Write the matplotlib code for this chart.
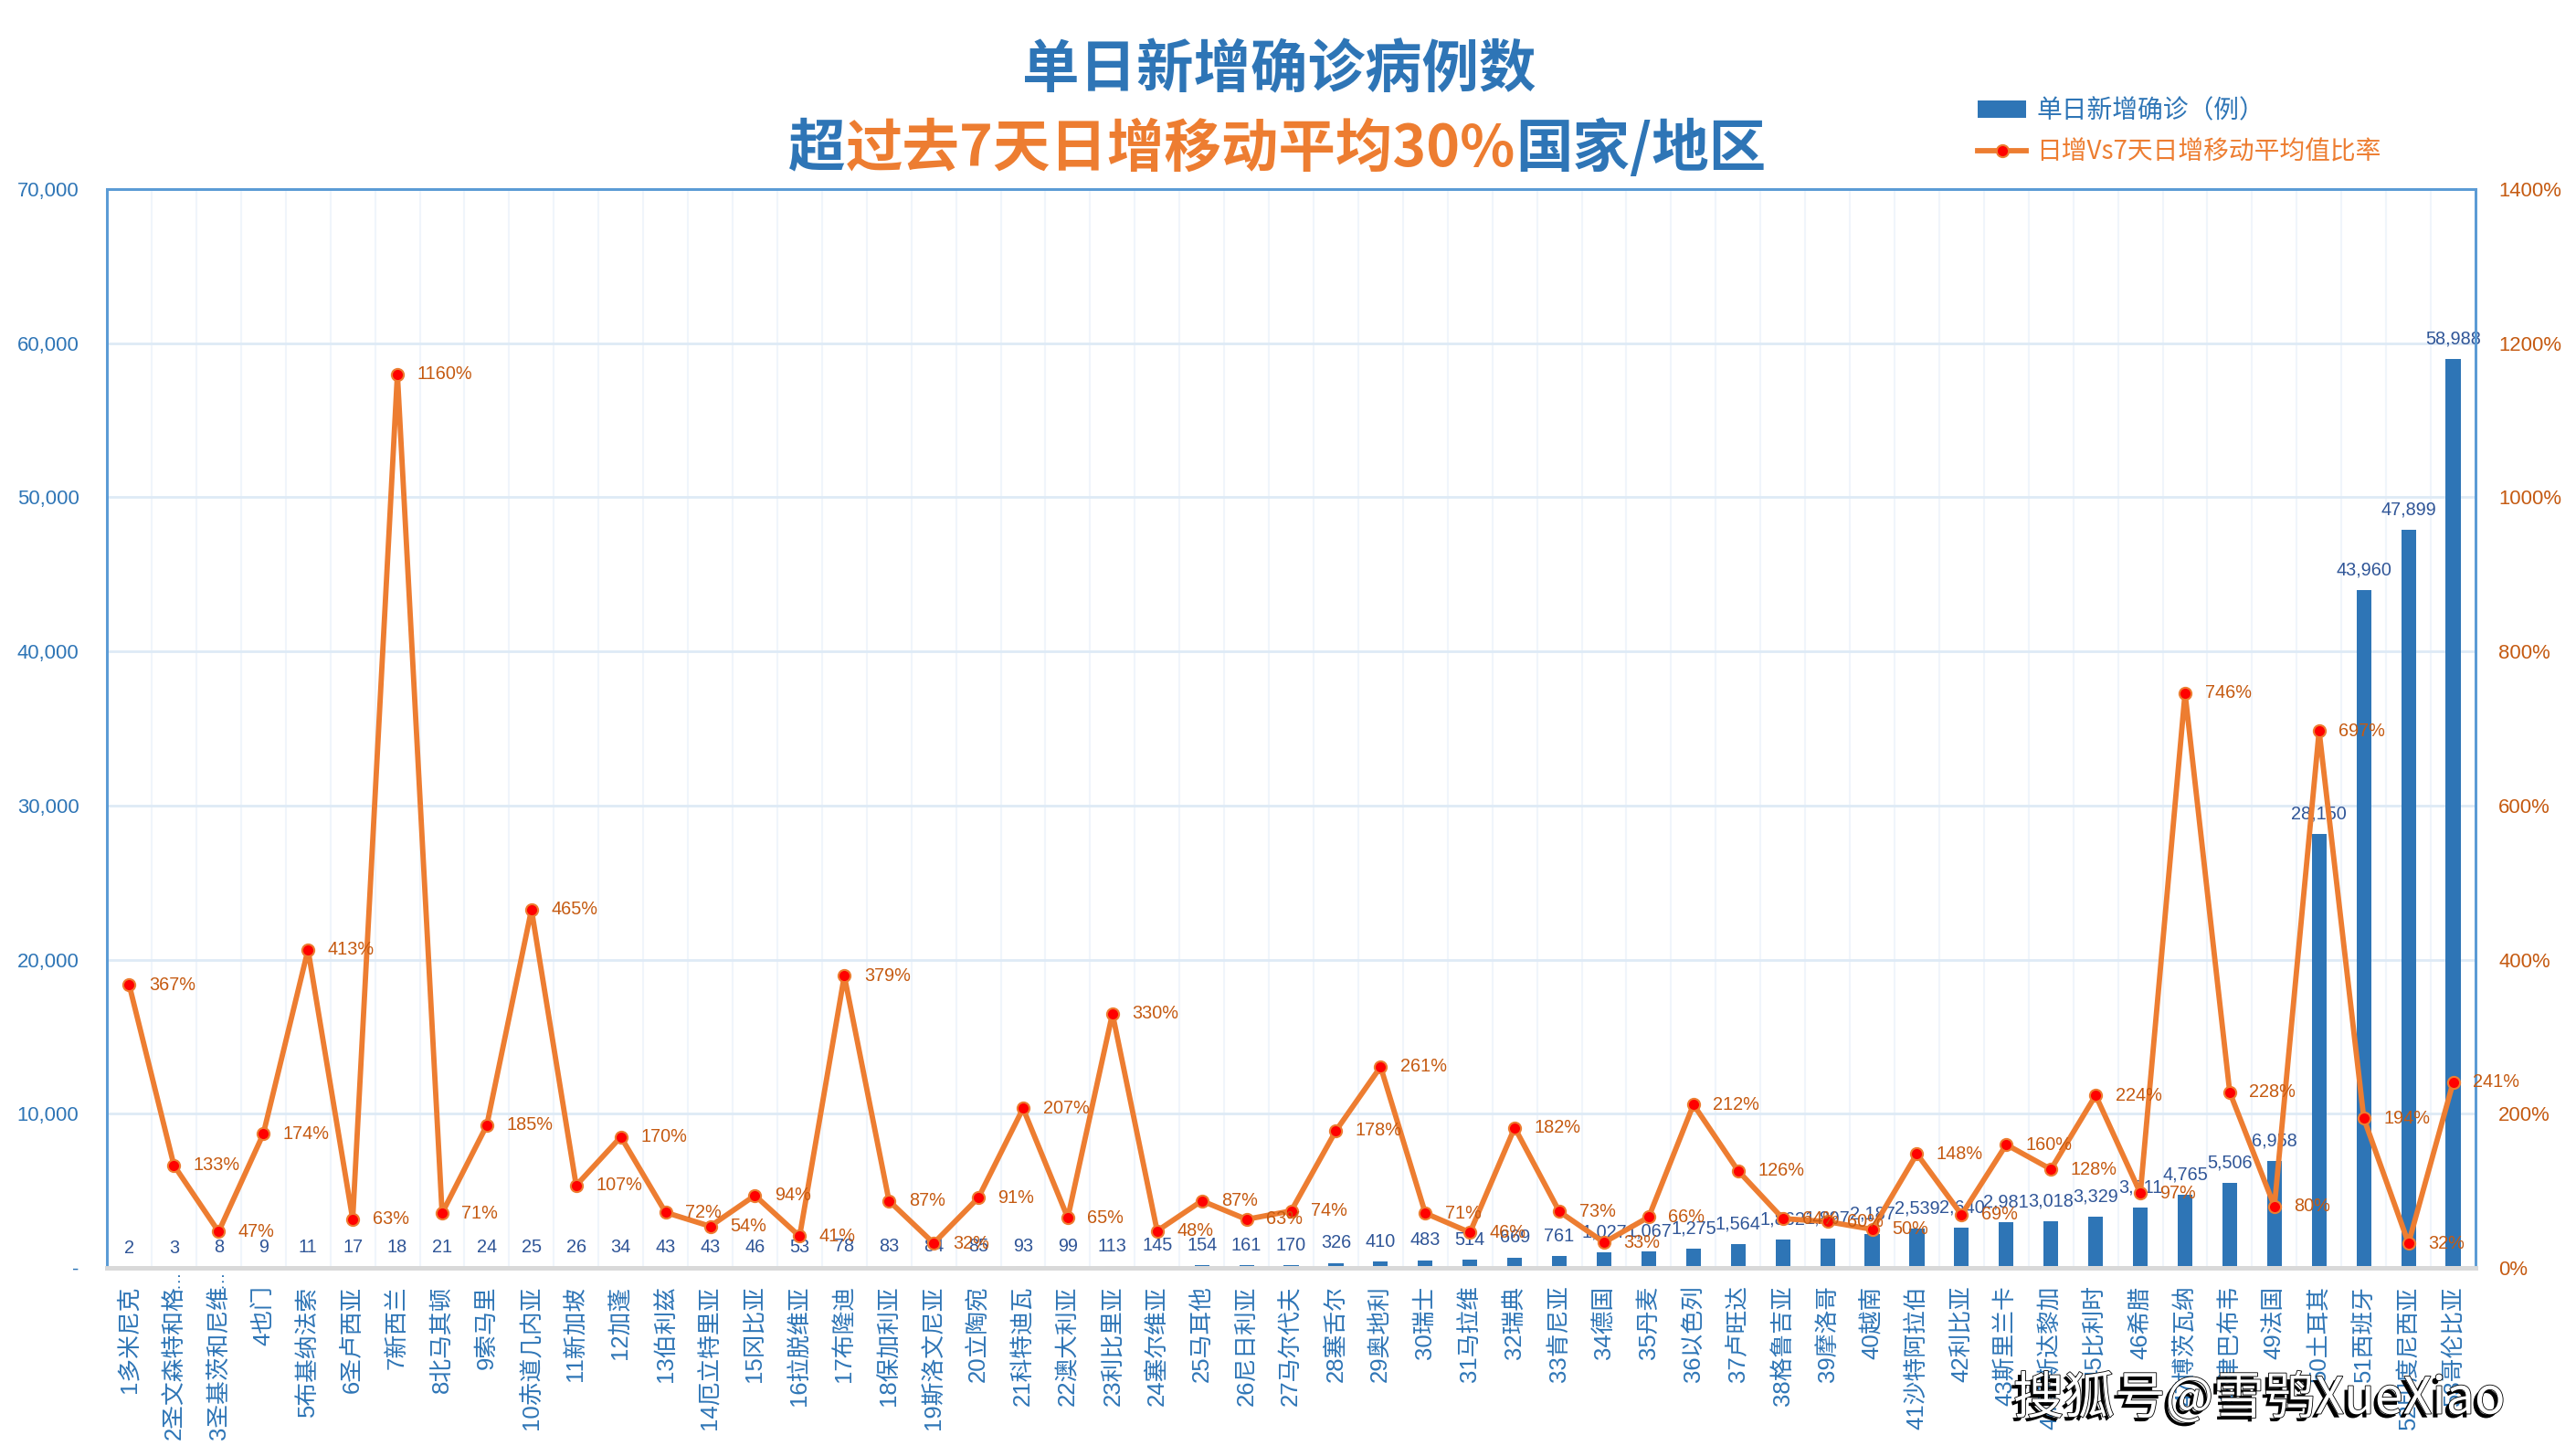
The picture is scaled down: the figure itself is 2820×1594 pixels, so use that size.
import matplotlib
matplotlib.use('Agg')
import matplotlib.pyplot as plt
from matplotlib import font_manager as fm
from matplotlib import transforms as mtransforms
from matplotlib.offsetbox import TextArea, HPacker, AnnotationBbox
from matplotlib.ticker import FuncFormatter, MultipleLocator
import matplotlib.patheffects as pe
import numpy as np

countries = ["1多米尼克", "2圣文森特和格…", "3圣基茨和尼维…", "4也门", "5布基纳法索",
             "6圣卢西亚", "7新西兰", "8北马其顿", "9索马里", "10赤道几内亚",
             "11新加坡", "12加蓬", "13伯利兹", "14厄立特里亚", "15冈比亚",
             "16拉脱维亚", "17布隆迪", "18保加利亚", "19斯洛文尼亚", "20立陶宛",
             "21科特迪瓦", "22澳大利亚", "23利比里亚", "24塞尔维亚", "25马耳他",
             "26尼日利亚", "27马尔代夫", "28塞舌尔", "29奥地利", "30瑞士",
             "31马拉维", "32瑞典", "33肯尼亚", "34德国", "35丹麦",
             "36以色列", "37卢旺达", "38格鲁吉亚", "39摩洛哥", "40越南",
             "41沙特阿拉伯", "42利比亚", "43斯里兰卡", "44哥斯达黎加", "45比利时",
             "46希腊", "47博茨瓦纳", "48津巴布韦", "49法国", "50土耳其",
             "51西班牙", "52印度尼西亚", "53哥伦比亚"]

daily_cases = [2, 3, 8, 9, 11, 17, 18, 21, 24, 25,
               26, 34, 43, 43, 46, 53, 78, 83, 84, 85,
               93, 99, 113, 145, 154, 161, 170, 326, 410, 483,
               514, 669, 761, 1027, 1067, 1275, 1564, 1862, 1897, 2187,
               2539, 2640, 2981, 3018, 3329, 3911, 4765, 5506, 6958, 28150,
               43960, 47899, 58988]

ratio_pct = [367, 133, 47, 174, 413, 63, 1160, 71, 185, 465,
             107, 170, 72, 54, 94, 41, 379, 87, 32, 91,
             207, 65, 330, 48, 87, 63, 74, 178, 261, 71,
             46, 182, 73, 33, 66, 212, 126, 64, 60, 50,
             148, 69, 160, 128, 224, 97, 746, 228, 80, 697,
             194, 32, 241]

title_line1 = "单日新增确诊病例数"
title_line2 = [("超", "blue"), ("过去7天日增移动平均30%", "orange"), ("国家/地区", "blue")]
legend_bar = "单日新增确诊（例）"
legend_line = "日增Vs7天日增移动平均值比率"
watermark = "搜狐号@雪鸮XueXiao"


def has_font(name):
    try:
        fm.findfont(fm.FontProperties(family=name), fallback_to_default=False)
        return True
    except Exception:
        return False


CJK = 'Noto Sans CJK SC'
if has_font('Liberation Sans Narrow'):
    NUM = 'Liberation Sans Narrow'
    k = 1.0
else:
    NUM = 'Liberation Sans'
    k = 0.84

BLUE = '#2E75B6'
DBLUE = '#2F5597'
ORANGE = '#ED7D31'
DORANGE = '#C55A11'
SPINE = '#5B9BD5'

plt.rcParams['font.family'] = [NUM, CJK, 'DejaVu Sans']

fig = plt.figure(figsize=(28.2, 15.94), dpi=100)
ax = fig.add_axes([0.0415, 0.1292, 0.9195, 0.7409])
ax2 = ax.twinx()

x = np.arange(len(countries))
bars = ax.bar(x, daily_cases, width=0.33, color=BLUE, zorder=2,
              label=legend_bar)
ax.set_xlim(-0.5, len(countries) - 0.5)
ax.set_ylim(0, 70000)
ax.yaxis.set_major_locator(MultipleLocator(10000))
ax.yaxis.set_major_formatter(FuncFormatter(lambda v, p: '-' if v == 0 else f'{int(v):,}'))

# tick labels: a truncated name keeps its ellipsis in the gap under the axis
tick_names = [c[:-1] if c.endswith('…') else c for c in countries]
ax.set_xticks(x)
ax.set_xticklabels(tick_names, rotation=90, fontsize=18.5, color=BLUE,
                   family=[NUM, CJK, 'DejaVu Sans'])
trans = mtransforms.blended_transform_factory(ax.transData, ax.transAxes)
for xi, c in zip(x, countries):
    if c.endswith('…'):
        ax.annotate('…', (xi, 0), xycoords=trans, xytext=(0, -2),
                    textcoords='offset points', rotation=90, ha='center',
                    va='top', fontsize=14, color=BLUE, annotation_clip=False)

ax.set_xticks(x + 0.5, minor=True)
ax.grid(axis='y', which='major', color='#DEEAF6', linewidth=2, zorder=0)
ax.grid(axis='x', which='minor', color='#F0F5FB', linewidth=1.5, zorder=0)
ax.set_axisbelow(True)
ax.tick_params(axis='x', which='both', length=0, pad=14)
ax.tick_params(axis='y', length=0, pad=22, labelsize=19 * k, labelcolor=BLUE)

for s in ['left', 'right', 'top']:
    ax.spines[s].set_color(SPINE)
    ax.spines[s].set_linewidth(2)
    ax2.spines[s].set_color(SPINE)
    ax2.spines[s].set_linewidth(2)
ax.spines['bottom'].set_color('#D9D9D9')
ax.spines['bottom'].set_linewidth(3.5)
ax2.spines['bottom'].set_color('#D9D9D9')
ax2.spines['bottom'].set_linewidth(3.5)

for xi, v in zip(x, daily_cases):
    ax.annotate(f'{v:,}', (xi, v), xytext=(0, 9), textcoords='offset points',
                ha='center', va='bottom', fontsize=17 * k, color=DBLUE, zorder=3)

line, = ax2.plot(x, ratio_pct, color=ORANGE, linewidth=4.2, marker='o',
                 markersize=9.5, markerfacecolor='#FF0000', markeredgecolor=ORANGE,
                 markeredgewidth=1.5, zorder=4, label=legend_line)
ax2.set_ylim(0, 1400)
ax2.yaxis.set_major_locator(MultipleLocator(200))
ax2.yaxis.set_major_formatter(FuncFormatter(lambda v, p: f'{int(v)}%'))
ax2.tick_params(axis='y', length=0, pad=18, labelsize=19 * k, labelcolor=DORANGE)
for xi, v in zip(x, ratio_pct):
    ax2.annotate(f'{v}%', (xi, v), xytext=(15.5, 0), textcoords='offset points',
                 ha='left', va='center', fontsize=17 * k, color=DORANGE, zorder=5)

# Title
fig.text(0.4965, 0.952, title_line1, ha='center', va='center', fontsize=45,
         fontweight='bold', color=BLUE, family=[CJK, 'DejaVu Sans'])
col = {"blue": BLUE, "orange": ORANGE}
parts = [TextArea(t, textprops=dict(color=col[c], fontsize=45, fontweight='bold',
                                    family=[CJK, 'DejaVu Sans']))
         for t, c in title_line2]
pack = HPacker(children=parts, align='baseline', pad=0, sep=0)
ab = AnnotationBbox(pack, (0.4958, 0.898), xycoords='figure fraction',
                    frameon=False, box_alignment=(0.5, 0.5), pad=0)
fig.add_artist(ab)

# Legend
leg = fig.legend(handles=[bars, line], labels=[legend_bar, legend_line],
                 loc='upper left', bbox_to_anchor=(0.759, 0.949), frameon=False,
                 prop=dict(family=[CJK, 'DejaVu Sans'], size=20),
                 handlelength=1.9, handleheight=0.7, handletextpad=0.4,
                 labelspacing=0.55)
leg.get_texts()[0].set_color(BLUE)
leg.get_texts()[1].set_color(ORANGE)

# Watermark
fig.text(0.877, 0.039, watermark, ha='center', va='center', fontsize=40,
         color='white', family=[CJK, 'DejaVu Sans'],
         path_effects=[pe.SimplePatchShadow(offset=(-3, -3), shadow_rgbFace='black', alpha=1.0),
                       pe.Stroke(linewidth=1.2, foreground='black'), pe.Normal()])

fig.savefig('out.png', dpi=100)
